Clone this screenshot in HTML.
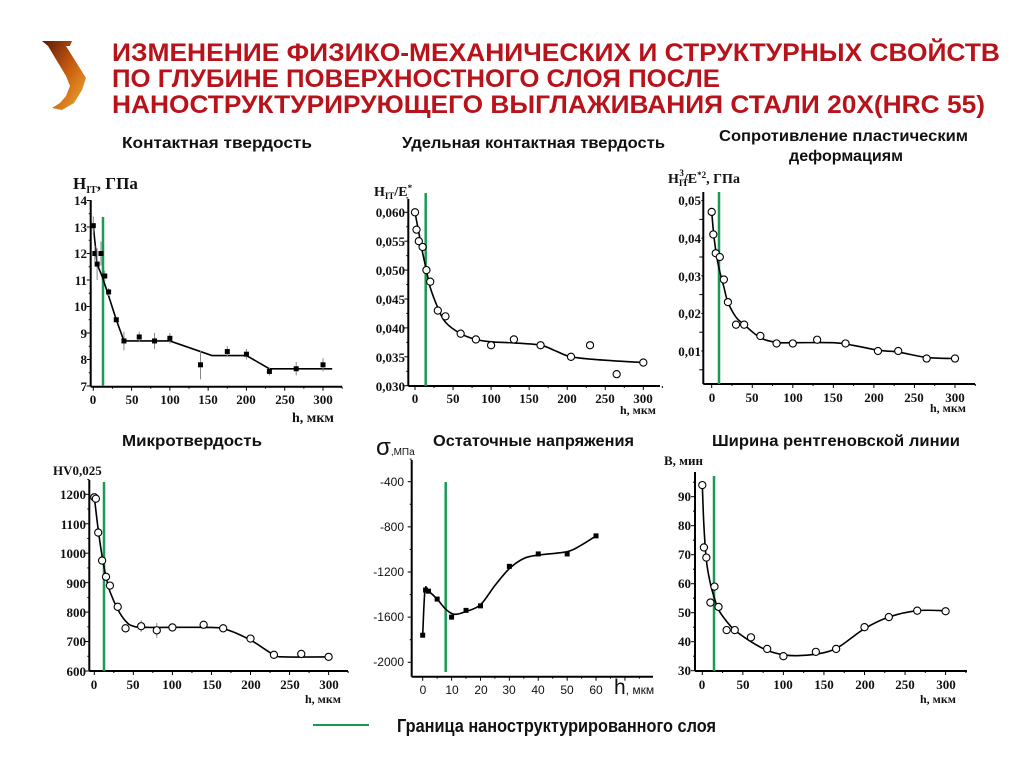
<!DOCTYPE html>
<html><head><meta charset="utf-8"><style>
html,body{margin:0;padding:0;background:#fff;}
svg{display:block;}
.t{font-family:"Liberation Sans",sans-serif;font-weight:bold;font-size:16px;fill:#111;}
.n{font-family:"Liberation Serif",serif;font-weight:bold;font-size:13px;fill:#111;}
.s{font-family:"Liberation Sans",sans-serif;font-size:12px;fill:#111;}
.h{font-family:"Liberation Sans",sans-serif;font-weight:bold;font-size:25px;fill:#b8121b;}
</style></head><body>
<svg id="sv" width="1018" height="768" viewBox="0 0 1018 768" xmlns="http://www.w3.org/2000/svg">
<defs><linearGradient id="lg" x1="0" y1="0" x2="1" y2="1">
<stop offset="0" stop-color="#5a1a08"/><stop offset="0.5" stop-color="#c85a10"/><stop offset="1" stop-color="#f0b030"/></linearGradient></defs>
<path d="M42,41 L72,41 L70,46 L66,46 L86,78 L82,90 L74,103 L62,110 L52,108 L60,103 L66,96 L70,86 L66,76 L48,46 Z" fill="url(#lg)"/>
<text class="h" x="112" y="61" textLength="888" lengthAdjust="spacingAndGlyphs">ИЗМЕНЕНИЕ ФИЗИКО-МЕХАНИЧЕСКИХ И СТРУКТУРНЫХ СВОЙСТВ</text>
<text class="h" x="112" y="87" textLength="608" lengthAdjust="spacingAndGlyphs">ПО ГЛУБИНЕ ПОВЕРХНОСТНОГО СЛОЯ ПОСЛЕ</text>
<text class="h" x="112" y="113" textLength="873" lengthAdjust="spacingAndGlyphs">НАНОСТРУКТУРИРУЮЩЕГО ВЫГЛАЖИВАНИЯ СТАЛИ 20Х(HRC 55)</text>

<text class="t" x="122" y="148" textLength="190" lengthAdjust="spacingAndGlyphs">Контактная твердость</text>
<text class="t" x="402" y="148" textLength="263" lengthAdjust="spacingAndGlyphs">Удельная контактная твердость</text>
<text class="t" x="719" y="141" textLength="249" lengthAdjust="spacingAndGlyphs">Сопротивление пластическим</text>
<text class="t" x="789" y="161" textLength="114" lengthAdjust="spacingAndGlyphs">деформациям</text>
<text class="t" x="122" y="446" textLength="140" lengthAdjust="spacingAndGlyphs">Микротвердость</text>
<text class="t" x="433" y="446" textLength="201" lengthAdjust="spacingAndGlyphs">Остаточные напряжения</text>
<text class="t" x="712" y="446" textLength="248" lengthAdjust="spacingAndGlyphs">Ширина рентгеновской линии</text>

<text class="n" x="73" y="189" style="font-size:17px">H<tspan style="font-size:10px" dy="4">IT</tspan><tspan dy="-4">, ГПа</tspan></text>
<g class="n" text-anchor="end">
<text x="87" y="391">7</text><text x="87" y="364">8</text><text x="87" y="338">9</text><text x="87" y="311">10</text><text x="87" y="285">11</text><text x="87" y="258">12</text><text x="87" y="232">13</text><text x="87" y="205">14</text></g>
<g class="n" text-anchor="middle">
<text x="93" y="404">0</text><text x="132" y="404">50</text><text x="170" y="404">100</text><text x="208" y="404">150</text><text x="246" y="404">200</text><text x="285" y="404">250</text><text x="323" y="404">300</text></g>
<text class="n" x="292" y="422" style="font-size:14px">h, мкм</text>

<text class="n" x="374" y="196" style="font-size:14px">H<tspan style="font-size:9px" dy="3">IT</tspan><tspan dy="-3">/E</tspan><tspan style="font-size:9px" dy="-5">*</tspan></text>
<g class="n" text-anchor="end">
<text x="405" y="217">0,060</text><text x="405" y="246">0,055</text><text x="405" y="275">0,050</text><text x="405" y="304">0,045</text><text x="405" y="333">0,040</text><text x="405" y="362">0,035</text><text x="405" y="391">0,030</text></g>
<g class="n" text-anchor="middle">
<text x="415" y="403">0</text><text x="453" y="403">50</text><text x="491" y="403">100</text><text x="529" y="403">150</text><text x="567" y="403">200</text><text x="605" y="403">250</text><text x="643" y="403">300</text></g>
<text class="n" x="620" y="414" style="font-size:12px">h, мкм</text>

<text class="n" x="668" y="183" style="font-size:14px">H<tspan style="font-size:9px" dy="3">IT</tspan><tspan style="font-size:9px" dx="-9" dy="-10">3</tspan><tspan dy="7">/E</tspan><tspan style="font-size:9px" dy="-5">*2</tspan><tspan dy="5">, ГПа</tspan></text>
<g class="n" text-anchor="end">
<text x="701" y="205">0,05</text><text x="701" y="243">0,04</text><text x="701" y="281">0,03</text><text x="701" y="318">0,02</text><text x="701" y="356">0,01</text></g>
<g class="n" text-anchor="middle">
<text x="712" y="402">0</text><text x="752" y="402">50</text><text x="793" y="402">100</text><text x="833" y="402">150</text><text x="874" y="402">200</text><text x="914" y="402">250</text><text x="955" y="402">300</text></g>
<text class="n" x="930" y="412" style="font-size:12px">h, мкм</text>

<text class="n" x="53" y="475">HV0,025</text>
<g class="n" text-anchor="end">
<text x="86" y="499">1200</text><text x="86" y="529">1100</text><text x="86" y="558">1000</text><text x="86" y="588">900</text><text x="86" y="617">800</text><text x="86" y="646">700</text><text x="86" y="676">600</text></g>
<g class="n" text-anchor="middle">
<text x="94" y="689">0</text><text x="133" y="689">50</text><text x="172" y="689">100</text><text x="212" y="689">150</text><text x="251" y="689">200</text><text x="290" y="689">250</text><text x="329" y="689">300</text></g>
<text class="n" x="305" y="703" style="font-size:12px">h, мкм</text>

<text class="s" x="376" y="455" style="font-size:24px">σ<tspan style="font-size:10px">,МПа</tspan></text>
<g class="s" text-anchor="end">
<text x="404" y="486">-400</text><text x="404" y="531">-800</text><text x="404" y="576">-1200</text><text x="404" y="621">-1600</text><text x="404" y="666">-2000</text></g>
<g class="s" text-anchor="middle">
<text x="423" y="694">0</text><text x="452" y="694">10</text><text x="481" y="694">20</text><text x="509" y="694">30</text><text x="538" y="694">40</text><text x="567" y="694">50</text><text x="596" y="694">60</text></g>
<text class="s" x="614" y="694" style="font-size:21px">h<tspan style="font-size:12px">, мкм</tspan></text>

<text class="n" x="664" y="465">B, мин</text>
<g class="n" text-anchor="end">
<text x="691" y="501">90</text><text x="691" y="530">80</text><text x="691" y="559">70</text><text x="691" y="588">60</text><text x="691" y="617">50</text><text x="691" y="646">40</text><text x="691" y="675">30</text></g>
<g class="n" text-anchor="middle">
<text x="702" y="689">0</text><text x="743" y="689">50</text><text x="783" y="689">100</text><text x="824" y="689">150</text><text x="865" y="689">200</text><text x="905" y="689">250</text><text x="946" y="689">300</text></g>
<text class="n" x="920" y="703" style="font-size:12px">h, мкм</text>

<line x1="313" y1="725" x2="369" y2="725" stroke="#1a9a55" stroke-width="2"/>
<text class="t" x="397" y="732" style="font-size:18px" textLength="319" lengthAdjust="spacingAndGlyphs">Граница наноструктурированного слоя</text>
<g id="dyn"></g>
</svg>
<script>
var NS="http://www.w3.org/2000/svg",G=document.getElementById("dyn");
function el(t,a){var e=document.createElementNS(NS,t);for(var k in a)e.setAttribute(k,a[k]);G.appendChild(e);return e;}
function cr(p){var d="M"+p[0][0].toFixed(1)+","+p[0][1].toFixed(1);for(var i=0;i<p.length-1;i++){var p0=p[i-1]||p[i],p1=p[i],p2=p[i+1],p3=p[i+2]||p2;
d+=" C"+(p1[0]+(p2[0]-p0[0])/6).toFixed(1)+","+(p1[1]+(p2[1]-p0[1])/6).toFixed(1)+" "+(p2[0]-(p3[0]-p1[0])/6).toFixed(1)+","+(p2[1]-(p3[1]-p1[1])/6).toFixed(1)+" "+p2[0].toFixed(1)+","+p2[1].toFixed(1);}return d;}
function chart(c){
 var X=function(h){return c.x0+h*c.sx},Y=function(v){return c.yb-(v-c.vb)*c.sy};
 el("line",{x1:c.ax,y1:c.at,x2:c.ax,y2:c.ab,stroke:"#000","stroke-width":2});
 el("line",{x1:c.ax,y1:c.ab,x2:c.ar,y2:c.ab,stroke:"#000","stroke-width":2});
 c.xt.forEach(function(h,i){el("line",{x1:X(h),y1:c.ab,x2:X(h),y2:c.ab+(i%2?2:4),stroke:"#000","stroke-width":1});});
 c.yt.forEach(function(v,i){el("line",{x1:c.ax,y1:Y(v),x2:c.ax-(i%2?2:4),y2:Y(v),stroke:"#000","stroke-width":1});});
 el("line",{x1:c.gx,y1:c.gt,x2:c.gx,y2:c.gb,stroke:"#1a9a55","stroke-width":2.5});
 var cp=c.curve.map(function(q){return[X(q[0]),Y(q[1])]});
 el("path",{d:c.poly?("M"+cp.map(function(q){return q.join(",")}).join(" L")):cr(cp),fill:"none",stroke:"#000","stroke-width":1.6});
 c.pts.forEach(function(q){var x=X(q[0]),y=Y(q[1]);
  if(q[2]){el("line",{x1:x,y1:Y(q[1]-q[2]),x2:x,y2:Y(q[1]+q[2]),stroke:"#888","stroke-width":1});}
  if(c.sq)el("rect",{x:x-2.5,y:y-2.5,width:5,height:5,fill:"#000"});
  else el("circle",{cx:x,cy:y,r:3.6,fill:"#fff",stroke:"#000","stroke-width":1.1});});
}
function rng(a,b,s){var r=[];for(var v=a;v<=b+1e-9;v+=s)r.push(v);return r;}
chart({x0:93.3,sx:0.7657,yb:386,vb:7,sy:26.5,ax:90.7,at:200,ab:386.7,ar:342,gx:103,gt:217,gb:386,sq:1,poly:1,
 xt:rng(0,325,25),yt:rng(7,14,0.5),
 curve:[[0,13.05],[5,11.6],[12,11.1],[20,10.4],[30,9.5],[40,8.7],[100,8.7],[155,8.15],[200,8.15],[230,7.65],[312,7.65]],
 pts:[[0,13.05,.35],[2,12,.3],[5,11.6,.6],[10,12,.45],[15,11.15,.2],[20,10.55,.15],[30,9.5,.1],[40,8.7,.35],[60,8.85,.2],[80,8.7,.3],[100,8.8,.2],[140,7.8,.55],[175,8.3,.2],[200,8.2,.2],[230,7.55,.15],[265,7.65,.25],[300,7.8,.25]]});
chart({x0:415,sx:0.761,yb:385.7,vb:0.030,sy:5780,ax:408.3,at:199,ab:386,ar:660,gx:425.7,gt:193,gb:386,
 xt:rng(0,325,25),yt:rng(0.030,0.0625,0.0025),
 curve:[[0,.060],[5,.0565],[10,.053],[15,.050],[20,.047],[30,.0435],[40,.041],[60,.039],[80,.038],[100,.0376],[130,.0374],[165,.037],[185,.036],[205,.035],[240,.0345],[300,.034]],
 pts:[[0,.060],[2,.057],[5,.055],[10,.054],[15,.050],[20,.048],[30,.043],[40,.042],[60,.039],[80,.038],[100,.037],[130,.038],[165,.037],[205,.035],[230,.037],[265,.032],[300,.034]]});
chart({x0:711.7,sx:0.811,yb:388.6,vb:0,sy:3760,ax:703.3,at:192,ab:384,ar:975,gx:719,gt:192,gb:384,
 xt:rng(0,325,25),yt:rng(0.005,0.05,0.005),
 curve:[[0,.047],[3,.04],[8,.033],[15,.027],[20,.023],[30,.019],[40,.017],[60,.0135],[80,.0123],[100,.0122],[150,.0122],[175,.0115],[205,.0102],[230,.0097],[265,.0083],[300,.008]],
 pts:[[0,.047],[2,.041],[5,.036],[10,.035],[15,.029],[20,.023],[30,.017],[40,.017],[60,.014],[80,.012],[100,.012],[130,.013],[165,.012],[205,.010],[230,.010],[265,.008],[300,.008]]});
chart({x0:94.3,sx:0.781,yb:671,vb:600,sy:0.2945,ax:89.3,at:480,ab:671,ar:348,gx:104,gt:482,gb:671,
 xt:rng(0,325,25),yt:rng(600,1250,50),
 curve:[[0,1190],[5,1080],[10,990],[15,920],[20,870],[30,810],[40,770],[50,752],[70,748],[150,748],[170,740],[200,705],[230,655],[245,648],[300,648]],
 pts:[[0,1190],[2,1185],[5,1070],[10,975],[15,920],[20,890],[30,818],[40,745],[60,752,20],[80,738,25],[100,748],[140,757],[165,745],[200,710],[230,655],[265,658],[300,648]]});
chart({x0:422.7,sx:2.889,yb:662.3,vb:-2000,sy:0.11288,ax:411.7,at:460,ab:676.7,ar:653,gx:445.7,gt:482,gb:672,sq:1,
 xt:rng(0,75,5),yt:rng(-2000,-200,200),
 curve:[[0,-1760],[0.8,-1360],[2,-1370],[5,-1440],[8,-1530],[11,-1575],[15,-1550],[20,-1490],[25,-1320],[30,-1170],[35,-1080],[40,-1050],[50,-1020],[55,-960],[60,-880]],
 pts:[[0,-1760],[1,-1360],[2,-1370],[5,-1440],[10,-1600],[15,-1540],[20,-1500],[30,-1150],[40,-1040],[50,-1040],[60,-880]]});
chart({x0:702.3,sx:0.811,yb:670.7,vb:30,sy:2.9,ax:695,at:472,ab:671,ar:967,gx:714,gt:476,gb:671,
 xt:rng(0,325,25),yt:rng(30,95,5),
 curve:[[0,94],[2,80],[5,68],[10,60],[15,55],[20,51],[30,47],[40,44],[60,40],[80,37],[100,35.5],[120,35.2],[150,36.2],[170,38.5],[200,44.5],[230,48.5],[265,50.7],[300,50.7]],
 pts:[[0,94],[2,72.5],[5,69],[10,53.5],[15,59],[20,52],[30,44],[40,44],[60,41.5],[80,37.5],[100,35],[140,36.5],[165,37.5],[200,45],[230,48.5],[265,50.7],[300,50.5]]});
</script>
</body></html>
